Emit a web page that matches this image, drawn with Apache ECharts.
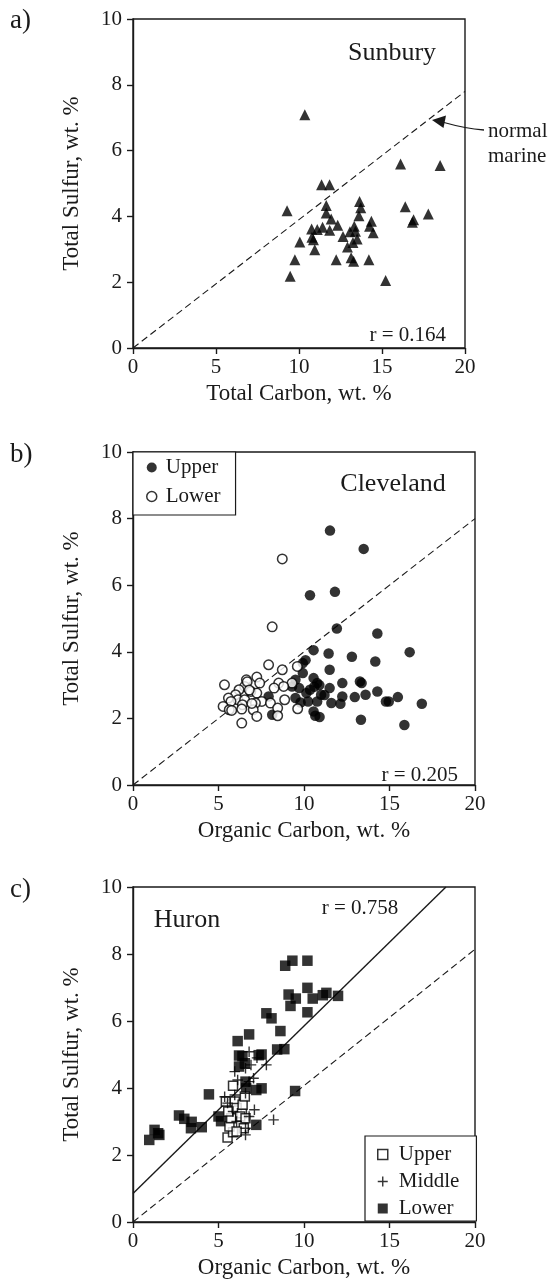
<!DOCTYPE html>
<html>
<head>
<meta charset="utf-8">
<script src="https://cdn.jsdelivr.net/npm/echarts@6/dist/echarts.min.js"></script>
<style>
html,body{margin:0;padding:0;background:#fff;}
#chart{width:557px;height:1287px;}
</style>
</head>
<body>
<div id="chart"></div>
<script>
// ---------- DATA ----------
// a) Sunbury: total carbon vs total sulfur
const sunburyC = [10.35, 9.28, 9.47, 9.75, 10.05, 10.95, 10.76, 10.78, 10.87, 11.1, 11.42, 11.36, 11.84, 11.64, 11.64, 11.85, 11.94, 12.24, 12.33, 12.65, 12.92, 13.07, 13.14, 13.29, 13.25, 13.33, 13.4, 13.5, 13.61, 13.65, 13.72, 14.21, 14.25, 14.36, 14.47, 15.22, 16.12, 16.4, 16.83, 16.9, 17.79, 18.5];
const sunburyS = [7.09, 4.17, 2.18, 2.68, 3.22, 2.99, 3.62, 3.37, 3.29, 3.6, 3.67, 4.96, 4.96, 4.33, 4.10, 3.58, 3.92, 2.68, 3.73, 3.39, 3.07, 3.53, 2.74, 2.64, 3.21, 3.70, 3.55, 3.31, 4.02, 4.45, 4.26, 2.68, 3.70, 3.85, 3.50, 2.05, 5.59, 4.29, 3.82, 3.9, 4.07, 5.55];

// b) Cleveland: organic carbon vs total sulfur
const clevUpperC = [11.52, 13.49, 10.35, 11.81, 11.92, 14.29, 16.18, 10.56, 11.44, 12.8, 14.17, 10.09, 9.93, 9.93, 11.5, 9.5, 10.56, 10.77, 12.24, 13.27, 13.37, 9.72, 10.35, 11.5, 14.29, 13.6, 12.97, 15.49, 12.24, 11.0, 10.14, 9.5, 7.93, 10.77, 10.24, 11.6, 12.13, 14.79, 14.96, 16.89, 10.56, 10.66, 10.91, 13.33, 15.87, 8.14, 9.8, 11.2, 9.3, 10.6, 10.9];
const clevUpperS = [7.64, 7.09, 5.70, 5.80, 4.70, 4.55, 3.99, 4.05, 3.95, 3.85, 3.71, 3.75, 3.66, 3.36, 3.46, 3.16, 3.21, 3.06, 3.06, 3.11, 3.06, 2.91, 2.86, 2.91, 2.81, 2.71, 2.64, 2.64, 2.66, 2.71, 2.76, 2.61, 2.66, 2.51, 2.51, 2.46, 2.44, 2.51, 2.51, 2.44, 2.21, 2.08, 2.04, 1.96, 1.80, 2.11, 2.48, 2.7, 2.96, 2.95, 3.0];
const clevLowerC = [8.73, 8.14, 7.93, 8.73, 9.61, 5.35, 6.63, 7.24, 7.41, 8.52, 9.3, 8.81, 8.25, 6.53, 6.2, 6.89, 7.24, 6.0, 5.58, 6.14, 6.53, 7.53, 8.87, 5.73, 6.4, 7.16, 8.04, 5.27, 5.63, 5.77, 6.36, 7.03, 8.46, 9.63, 7.24, 8.46, 6.36, 6.68, 6.8, 6.95];
const clevLowerS = [6.79, 4.75, 3.61, 3.46, 3.56, 3.01, 3.16, 3.24, 3.06, 3.06, 3.06, 2.96, 2.91, 2.96, 2.86, 2.81, 2.76, 2.71, 2.61, 2.56, 2.56, 2.51, 2.56, 2.51, 2.41, 2.46, 2.46, 2.36, 2.26, 2.24, 2.28, 2.26, 2.31, 2.29, 2.06, 2.08, 1.86, 3.1, 2.85, 2.45];

// c) Huron: organic carbon vs total sulfur
const huronUpperC = [5.53, 5.85, 5.64, 5.74, 5.57, 5.43, 5.85, 5.95, 6.06, 6.37, 6.41, 6.27, 6.54, 6.48, 6.06, 6.58];
const huronUpperS = [2.52, 2.68, 2.85, 3.1, 3.3, 3.6, 4.07, 3.6, 3.4, 3.25, 3.5, 3.15, 3.75, 2.8, 2.7, 3.1];
const huronMiddleC = [6.79, 7.25, 7.8, 6.9, 6.58, 5.95, 6.12, 7.05, 6.79, 5.36, 5.53, 5.95, 6.58, 7.1, 6.79, 8.22, 6.58, 6.06, 6.58, 5.85];
const huronMiddleS = [5.08, 4.9, 4.69, 4.69, 4.59, 4.49, 4.24, 4.29, 4.19, 3.74, 3.55, 3.79, 3.84, 3.35, 3.15, 3.05, 2.8, 3.0, 2.6, 3.3];
const huronLowerC = [0.95, 1.26, 1.47, 1.54, 2.69, 3.0, 3.43, 3.39, 4.02, 4.44, 5.15, 5.0, 6.12, 6.79, 6.2, 6.2, 6.54, 6.62, 6.58, 7.21, 7.52, 7.52, 7.21, 7.8, 8.1, 8.62, 8.43, 8.85, 8.9, 9.32, 10.2, 9.1, 9.21, 9.52, 10.2, 10.2, 10.51, 11.1, 11.31, 11.99, 9.48, 6.4, 7.35];
const huronLowerS = [2.45, 2.75, 2.65, 2.60, 3.18, 3.08, 2.99, 2.80, 2.83, 3.81, 3.01, 3.15, 5.40, 5.60, 4.97, 4.64, 4.74, 3.99, 4.19, 3.94, 3.99, 5.0, 2.90, 6.23, 6.08, 5.70, 5.15, 5.16, 7.65, 7.8, 7.8, 6.79, 6.45, 6.67, 6.99, 6.26, 6.67, 6.77, 6.84, 6.75, 3.91, 4.95, 4.98];

// reference lines (endpoints in data units)
const normalMarineA = [[0, 0], [20, 7.8]];
const normalMarineB = [[0, 0], [20, 8.0]];
const normalMarineC = [[0, 0], [20, 8.14]];
const huronFit = [[0, 0.85], [18.3, 10]];

// tick settings / labels
const xTicks = {min: 0, max: 20, interval: 5};
const yTicks = {min: 0, max: 10, interval: 2};
const panelTitles = ['Sunbury', 'Cleveland', 'Huron'];
const rValues = ['r = 0.164', 'r = 0.205', 'r = 0.758'];
const xNames = ['Total Carbon, wt. %', 'Organic Carbon, wt. %', 'Organic Carbon, wt. %'];
const yName = 'Total Sulfur, wt. %';

// ---------- CHART ----------
const zip = (a, b) => a.map((v, i) => [v, b[i]]);
const FONT = "'Liberation Serif', 'DejaVu Serif', serif";
const INK = '#1a1a1a';

const grids = [
  {left: 133, top: 19, width: 332, height: 329},
  {left: 133, top: 452, width: 342, height: 333},
  {left: 133, top: 887, width: 342, height: 335}
].map(g => Object.assign({show: true, borderColor: INK, borderWidth: 1.4, backgroundColor: 'transparent'}, g));

const xAxes = [0, 1, 2].map(i => ({
  type: 'value', gridIndex: i, min: xTicks.min, max: xTicks.max, interval: xTicks.interval,
  name: xNames[i], nameLocation: 'middle', nameGap: 34,
  nameTextStyle: {fontFamily: FONT, fontSize: 23, color: INK},
  axisLine: {show: true, onZero: false, lineStyle: {color: INK, width: 1.4}},
  axisTick: {show: true, inside: false, length: 6, lineStyle: {color: INK, width: 1.4}},
  axisLabel: {fontFamily: FONT, fontSize: 21, color: INK, margin: 9},
  splitLine: {show: false}
}));
const yAxes = [0, 1, 2].map(i => ({
  type: 'value', gridIndex: i, min: yTicks.min, max: yTicks.max, interval: yTicks.interval,
  name: yName, nameLocation: 'middle', nameGap: 50,
  nameTextStyle: {fontFamily: FONT, fontSize: 23, color: INK},
  axisLine: {show: true, onZero: false, lineStyle: {color: INK, width: 1.4}},
  axisTick: {show: true, inside: false, length: 6, lineStyle: {color: INK, width: 1.4}},
  axisLabel: {fontFamily: FONT, fontSize: 21, color: INK, margin: 11},
  splitLine: {show: false}
}));

function refLine(data, idx, dashed) {
  return {
    type: 'line', xAxisIndex: idx, yAxisIndex: idx, data: data, symbol: 'none', silent: true,
    lineStyle: {color: INK, width: dashed ? 1.1 : 1.4, type: dashed ? [7, 4] : 'solid'},
    z: 1
  };
}

const PLUS = 'path://M5 0 L5 10 M0 5 L10 5';
const filled = {color: '#000'};
const openSt = {color: '#fff', borderColor: '#000', borderWidth: 1.5};
const plusSt = {color: 'rgba(0,0,0,0)', borderColor: '#000', borderWidth: 1.4};

const series = [
  refLine(normalMarineA, 0, true),
  {type: 'scatter', name: 'Sunbury', xAxisIndex: 0, yAxisIndex: 0, symbol: 'triangle', symbolSize: 11,
   itemStyle: filled, data: zip(sunburyC, sunburyS), z: 3},

  refLine(normalMarineB, 1, true),
  {type: 'scatter', name: 'Upper', xAxisIndex: 1, yAxisIndex: 1, symbol: 'circle', symbolSize: 10.5,
   itemStyle: filled, data: zip(clevUpperC, clevUpperS), z: 3},
  {type: 'scatter', name: 'Lower', xAxisIndex: 1, yAxisIndex: 1, symbol: 'circle', symbolSize: 9.5,
   itemStyle: openSt, data: zip(clevLowerC, clevLowerS), z: 4},

  refLine(normalMarineC, 2, true),
  refLine(huronFit, 2, false),
  {type: 'scatter', name: 'Lower ', xAxisIndex: 2, yAxisIndex: 2, symbol: 'rect', symbolSize: 10.5,
   itemStyle: filled, data: zip(huronLowerC, huronLowerS), z: 3},
  {type: 'scatter', name: 'Upper ', xAxisIndex: 2, yAxisIndex: 2, symbol: 'rect', symbolSize: 9,
   itemStyle: openSt, data: zip(huronUpperC, huronUpperS), z: 4},
  {type: 'scatter', name: 'Middle', xAxisIndex: 2, yAxisIndex: 2, symbol: PLUS, symbolSize: 10.5,
   itemStyle: plusSt, data: zip(huronMiddleC, huronMiddleS), z: 5}
];

const legendBase = {
  orient: 'vertical', itemWidth: 10, itemHeight: 10, itemGap: 8, selectedMode: false,
  borderColor: INK, borderWidth: 1.2, borderRadius: 0, backgroundColor: '#fff',
  formatter: n => n.trim(),
  textStyle: {fontFamily: FONT, fontSize: 21, color: INK, lineHeight: 21}
};
const legends = [
  Object.assign({}, legendBase, {
    left: 133, top: 452, padding: [5, 15, 8, 13],
    textStyle: Object.assign({}, legendBase.textStyle, {padding: [0, 0, 0, 4]}),
    data: [{name: 'Upper', icon: 'circle', itemStyle: filled},
           {name: 'Lower', icon: 'circle', itemStyle: openSt}]
  }),
  Object.assign({}, legendBase, {
    left: 365, top: 1136, padding: [8, 17, 2, 12], itemGap: 6,
    textStyle: Object.assign({}, legendBase.textStyle, {padding: [0, 0, 0, 6]}),
    data: [{name: 'Upper ', icon: 'rect', itemStyle: openSt},
           {name: 'Middle', icon: PLUS, itemStyle: plusSt},
           {name: 'Lower ', icon: 'rect', itemStyle: filled}]
  })
];

function txt(text, x, y, size, align) {
  return {type: 'text', x: x, y: y, z: 20, silent: true,
    style: {text: text, fontFamily: FONT, fontSize: size, fill: INK, align: align || 'center', verticalAlign: 'middle'}};
}

const graphics = [
  txt('a)', 10, 21, 27, 'left'),
  txt('b)', 10, 455, 27, 'left'),
  txt('c)', 10, 890, 27, 'left'),
  txt(panelTitles[0], 392, 53, 26),
  txt(panelTitles[1], 393, 484, 26),
  txt(panelTitles[2], 187, 920, 26),
  txt(rValues[0], 446, 335, 21, 'right'),
  txt(rValues[1], 458, 775, 21, 'right'),
  txt(rValues[2], 360, 908, 21),
  txt('normal', 488, 131, 21, 'left'),
  txt('marine', 488, 156, 21, 'left'),
  {type: 'bezierCurve', z: 20, silent: true,
   shape: {x1: 484, y1: 130, x2: 444, y2: 122.5, cpx1: 465, cpy1: 128.5},
   style: {stroke: INK, lineWidth: 1.3, fill: null}},
  {type: 'polygon', z: 20, silent: true,
   shape: {points: [[432, 120], [446, 115.5], [443.5, 128]]},
   style: {fill: INK}}
];

const chart = echarts.init(document.getElementById('chart'), null, {renderer: 'canvas'});
chart.setOption({
  animation: false,
  backgroundColor: '#fff',
  grid: grids,
  xAxis: xAxes,
  yAxis: yAxes,
  legend: legends,
  series: series,
  graphic: graphics
});
</script>
</body>
</html>
